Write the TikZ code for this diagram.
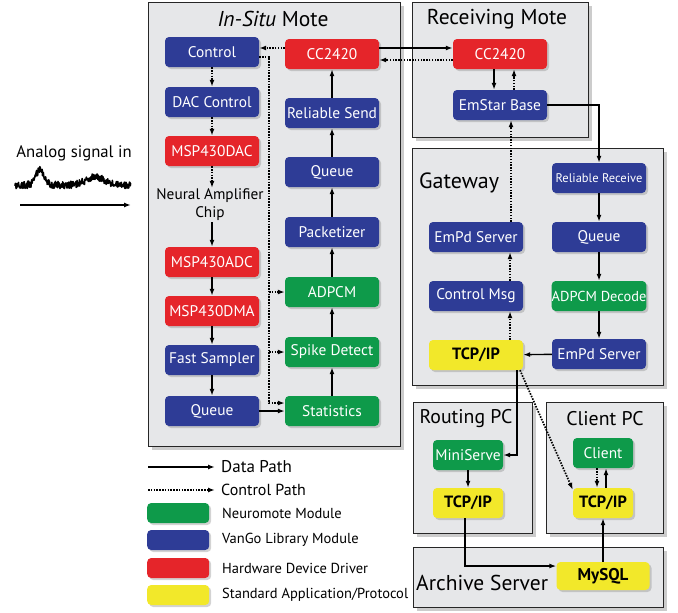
\documentclass[tikz,border=0pt]{standalone}
\usepackage{fontspec}
\setmainfont{PT Sans}
\usetikzlibrary{arrows.meta,shadows,calc}
\definecolor{vblue}{HTML}{2E3C96}
\definecolor{vgreen}{HTML}{0E9A4A}
\definecolor{vred}{HTML}{E5252A}
\definecolor{vyellow}{HTML}{F2E82A}
\definecolor{panel}{HTML}{E6E7E9}
\tikzset{
  mod/.style={rounded corners=4pt, minimum width=94pt, minimum height=30pt, inner sep=0pt,
    text=white, font=\fontsize{15.4}{15.4}\selectfont,
    drop shadow={shadow xshift=2pt, shadow yshift=-2pt, opacity=0.35}},
  bluem/.style={mod, fill=vblue},
  greenm/.style={mod, fill=vgreen},
  redm/.style={mod, fill=vred},
  yellowm/.style={mod, fill=vyellow, text=black, font=\fontsize{16.3}{16.3}\selectfont\bfseries},
  group/.style={draw=black!85, line width=1.3pt, fill=panel, inner sep=0pt, anchor=north west,
    drop shadow={shadow xshift=3pt, shadow yshift=-3pt, opacity=0.4}},
  title/.style={font=\fontsize{21.5}{21.5}\selectfont, inner sep=0pt},
  legtext/.style={font=\fontsize{14.5}{14.5}\selectfont, inner sep=0pt, anchor=west},
  data/.style={-{Latex[length=7pt,width=5pt]}, line width=1.4pt},
  ctrl/.style={-{Latex[length=7pt,width=5pt]}, line width=1.7pt, dash pattern=on 1.5pt off 1.3pt},
}
\begin{document}
\begin{tikzpicture}[x=1pt,y=-1pt]
\useasboundingbox (0,0) rectangle (678,613);
% panels
\node[group, minimum width=252pt, minimum height=444pt] (insitu) at (148,2) {};
\node[group, minimum width=176pt, minimum height=135pt] (recv) at (412,2) {};
\node[group, minimum width=251pt, minimum height=237pt] (gw) at (412,148) {};
\node[group, minimum width=119pt, minimum height=131pt] (rpc) at (413,402) {};
\node[group, minimum width=117pt, minimum height=131pt] (cpc) at (546,402) {};
\node[group, minimum width=250pt, minimum height=60pt] (arch) at (413,547) {};
% titles
\node[title] (t1) at (273,19) {\textit{In-Situ} Mote};
\node[title] (t2) at (497,19) {Receiving Mote};
\node[title, font=\fontsize{22}{22}\selectfont, anchor=west] (t3) at (419,183) {Gateway};
\node[title, font=\fontsize{19.8}{19.8}\selectfont] (t4) at (466,419) {Routing PC};
\node[title, font=\fontsize{19.8}{19.8}\selectfont] (t5) at (605,419) {Client PC};
\node[title, anchor=west] (t6) at (416,583) {Archive Server};
% in-situ left column
\node[bluem] (ctl) at (212,52) {Control};
\node[bluem] (dacc) at (212,102) {DAC Control};
\node[redm] (dac) at (212,151) {MSP430DAC};
\node[align=center, font=\fontsize{15.3}{18}\selectfont, inner sep=1pt] (nac) at (210,205) {Neural Amplifier\\Chip};
\node[redm] (adc) at (212,262) {MSP430ADC};
\node[redm] (dma) at (212,311) {MSP430DMA};
\node[bluem] (fs) at (212,360) {Fast Sampler};
\node[bluem] (q1) at (212,411) {Queue};
% in-situ right column
\node[redm] (cc1) at (332,54) {CC2420};
\node[bluem] (rs) at (332,113) {Reliable Send};
\node[bluem] (q2) at (332,172) {Queue};
\node[bluem] (pk) at (332,232) {Packetizer};
\node[greenm] (ad) at (332,292) {ADPCM};
\node[greenm] (sd) at (332,352) {Spike Detect};
\node[greenm] (st) at (332,411) {Statistics};
% receiving mote
\node[redm] (cc2) at (500,54) {CC2420};
\node[bluem] (emb) at (500,105) {EmStar Base};
% gateway
\node[bluem, font=\fontsize{12.5}{12.5}\selectfont] (rr) at (599,178) {Reliable Receive};
\node[bluem] (q3) at (599,237) {Queue};
\node[greenm, font=\fontsize{14.4}{14.4}\selectfont] (adec) at (599,296) {ADPCM Decode};
\node[bluem] (emr) at (599,354) {EmPd Server};
\node[bluem] (eml) at (476,237) {EmPd Server};
\node[bluem] (cm) at (476,296) {Control Msg};
\node[yellowm] (tcp1) at (476,355) {TCP/IP};
% routing pc
\node[greenm, minimum width=70pt] (ms) at (468,455) {MiniServe};
\node[yellowm, minimum width=70pt] (tcp2) at (468,503) {TCP/IP};
% client pc
\node[greenm, minimum width=60pt] (cl) at (603,453) {Client};
\node[yellowm, minimum width=60pt] (tcp3) at (603,503) {TCP/IP};
% archive
\node[yellowm, minimum width=93pt, minimum height=28pt, font=\fontsize{17}{17}\selectfont\bfseries] (my) at (603,576) {MySQL};

% ---- connectors: in-situ
\draw[ctrl] (ctl) -- (dacc);
\draw[ctrl] (dacc) -- (dac);
\draw[ctrl] (dac) -- ([xshift=2pt]nac.north);
\draw[data] ([xshift=2pt]nac.south) -- (adc);
\draw[data] (adc) -- (dma);
\draw[data] (dma) -- (fs);
\draw[data] (fs) -- (q1);
\draw[data] (q1) -- (st);
\draw[data] (st) -- (sd);
\draw[data] (sd) -- (ad);
\draw[data] (ad) -- (pk);
\draw[data] (pk) -- (q2);
\draw[data] (q2) -- (rs);
\draw[data] (rs) -- (cc1);
\draw[ctrl] ([yshift=6pt]cc1.west) -- ([yshift=6pt]cc1.west -| ctl.east);
\coordinate (busx) at (269,0);
\coordinate (stc) at ([yshift=8pt]st.west);
\draw[ctrl] ([yshift=-5pt]ctl.east) -| (busx |- stc) -- (stc);
\draw[ctrl] (busx |- ad.west) -- (ad.west);
\draw[ctrl] (busx |- sd.west) -- (sd.west);
% between motes
\draw[data] ([yshift=6pt]cc1.east) -- ([yshift=6pt]cc2.west);
\draw[ctrl] ([yshift=-6pt]cc2.west) -- ([yshift=-6pt]cc1.east);
\draw[data] ([xshift=-6pt]cc2.south) -- ([xshift=-6pt]emb.north);
\draw[ctrl] ([xshift=14pt]emb.north) -- ([xshift=14pt]cc2.south);
\draw[data] (emb.east) -| (rr.north);
% gateway
\draw[data] (rr) -- (q3);
\draw[data] (q3) -- (adec);
\draw[data] (adec) -- (emr);
\draw[data] (emr) -- (tcp1);
\draw[ctrl] ([xshift=34pt]tcp1.north) -- ([xshift=34pt]cm.south);
\draw[ctrl] ([xshift=34pt]cm.north) -- ([xshift=34pt]eml.south);
\draw[ctrl] ([xshift=35pt]eml.north) -- ([xshift=35pt]eml.north |- emb.south);
\draw[data] ([xshift=41pt]tcp1.south) |- (ms.east);
\draw[ctrl] ([xshift=44pt]tcp1.south) -- ([yshift=-2pt]tcp3.north west);
% routing / client / archive
\draw[data] (ms) -- (tcp2);
\draw[data] ([xshift=-3pt]tcp2.south) |- ([yshift=10pt]my.west);
\draw[data] (my) -- (tcp3);
\draw[ctrl] ([xshift=-6pt]cl.south) -- ([xshift=-6pt]tcp3.north);
\draw[data] ([xshift=3pt]tcp3.north) -- ([xshift=3pt]cl.south);

% ---- analog signal
\node[font=\fontsize{16.7}{16.7}\selectfont, inner sep=0pt] (an) at (74,153) {Analog signal in};
\pgfmathsetseed{7}
\draw[line width=1.6pt, line join=round] plot[domain=15:131, samples=300, variable=\t]
  (\t, {185 - 15*exp(max(-((\t-40)/6)^2,-9)) - 8*exp(max(-((\t-95)/13)^2,-9)) + 3.6*rand});
\coordinate (as) at (20,205);
\coordinate (ae) at (131,205);
\draw[data] (as) -- (ae);

% ---- legend
\node[legtext, font=\fontsize{17}{17}\selectfont] (ldp) at (221,467) {Data Path};
\coordinate (lds) at (148,467);
\draw[data] (lds) -- ([xshift=-6pt]ldp.west);
\node[legtext, font=\fontsize{16}{16}\selectfont] (lcp) at (221,490) {Control Path};
\coordinate (lcs) at (148,490);
\draw[ctrl] (lcs) -- ([xshift=-6pt]lcp.west);
\node[greenm, minimum width=62pt, minimum height=20pt, anchor=west] (sw1) at (147,513) {};
\node[legtext] (lt1) at (222,513) {Neuromote Module};
\node[bluem, minimum width=62pt, minimum height=20pt, anchor=west] (sw2) at (147,540) {};
\node[legtext] (lt2) at (222,540) {VanGo Library Module};
\node[redm, minimum width=62pt, minimum height=20pt, anchor=west] (sw3) at (147,568) {};
\node[legtext] (lt3) at (222,568) {Hardware Device Driver};
\node[yellowm, minimum width=62pt, minimum height=20pt, anchor=west] (sw4) at (147,595) {};
\node[legtext] (lt4) at (222,595) {Standard Application/Protocol};
\end{tikzpicture}
\end{document}
